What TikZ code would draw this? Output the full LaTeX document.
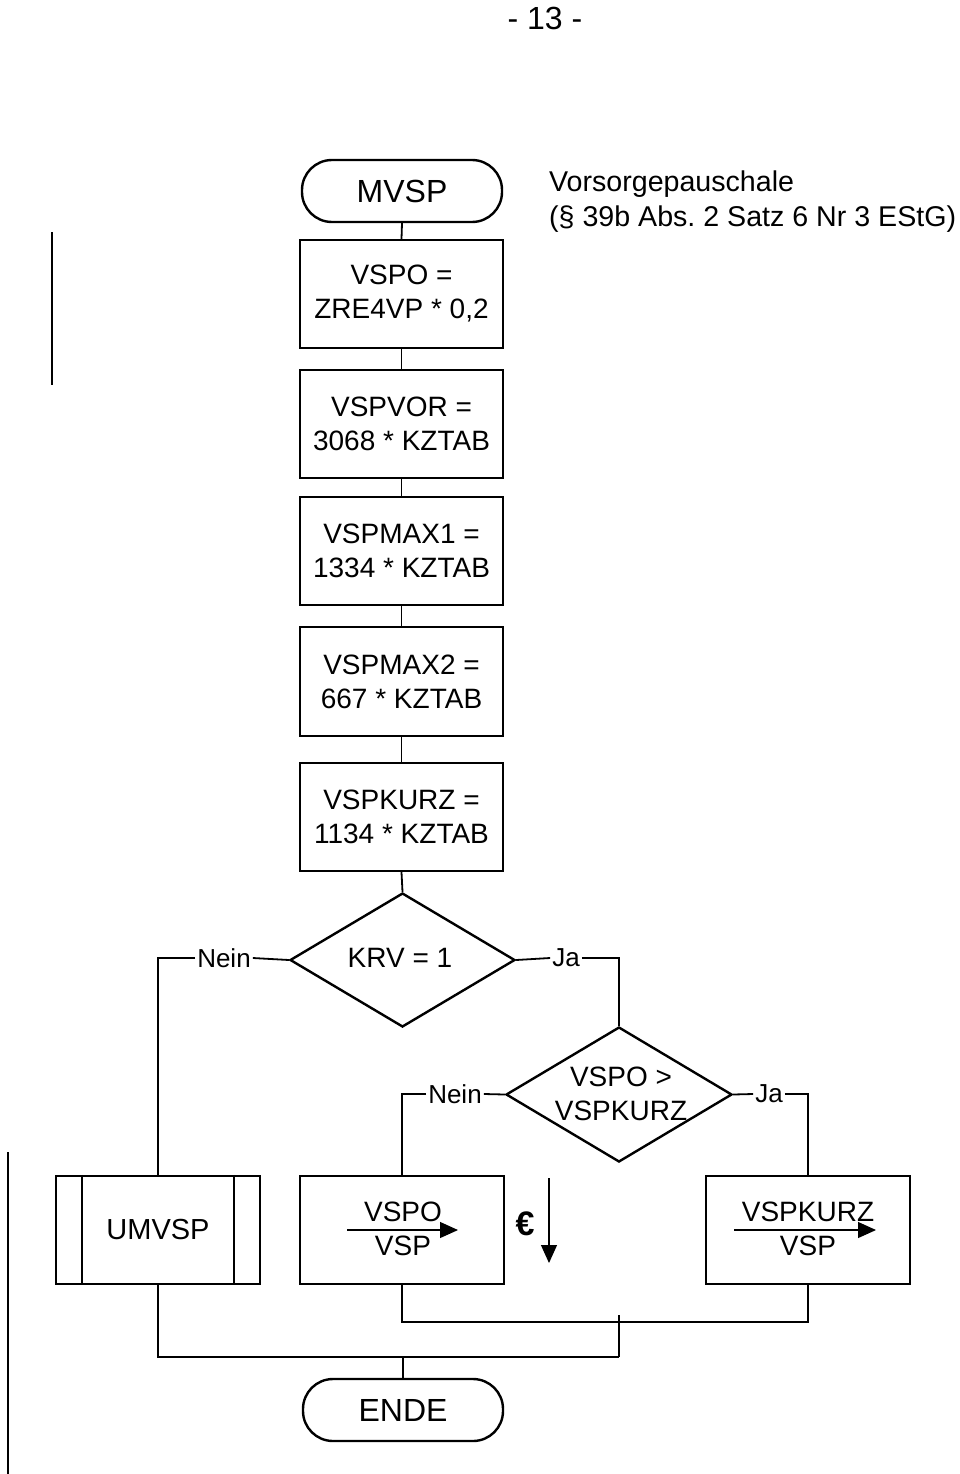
\documentclass[tikz,border=0pt]{standalone}
\usepackage{fontspec}
\setmainfont{Liberation Sans}
\usetikzlibrary{arrows.meta,shapes.geometric}
\frenchspacing
\tikzset{
  big/.style={font=\fontsize{28}{34}\selectfont},
  term/.style={draw,line width=2.4pt,rounded corners=30pt,minimum width=200pt,minimum height=62pt,inner sep=0pt,font=\fontsize{32}{36}\selectfont},
  proc/.style={draw,line width=2.4pt,minimum width=203pt,minimum height=108pt,inner sep=0pt,align=center,big},
  dec/.style={draw,line width=2.4pt,diamond,inner sep=0pt},
  dtext/.style={align=center,inner sep=0pt,big},
  lbl/.style={font=\fontsize{26}{30}\selectfont,inner sep=2pt},
  conn/.style={line width=1.8pt},
  thinarrow/.style={line width=1.2pt,-{Triangle[length=18pt,width=16pt]}},
  plain/.style={inner sep=0pt,big}
}
\begin{document}
\begin{tikzpicture}[x=1pt,y=-1pt]
\useasboundingbox (0,0) rectangle (960,1474);
% header
\node[inner sep=0pt,font=\fontsize{32}{36}\selectfont] (page) at (545,18) {- 13 -};
\node[inner sep=0pt,anchor=base west,font=\fontsize{28.6}{34}\selectfont] (ti1) at (549,192) {Vorsorgepauschale};
\node[inner sep=0pt,anchor=base west,font=\fontsize{28.6}{34}\selectfont] (ti2) at (549,226) {(\S{} 39b Abs. 2 Satz 6 Nr 3 EStG)};
% left margin lines
\coordinate (l1a) at (52,232); \coordinate (l1b) at (52,385);
\draw[conn] (l1a) -- (l1b);
\coordinate (l2a) at (8,1152); \coordinate (l2b) at (8,1474);
\draw[conn] (l2a) -- (l2b);
% main column
\node[term] (mvsp) at (402,191) {MVSP};
\node[proc] (b1) at (401.5,294) {VSPO =\\ZRE4VP * 0,2};
\node[proc] (b2) at (401.5,424) {VSPVOR =\\3068 * KZTAB};
\node[proc] (b3) at (401.5,551) {VSPMAX1 =\\1334 * KZTAB};
\node[proc,minimum height=109pt] (b4) at (401.5,681.5) {VSPMAX2 =\\667 * KZTAB};
\node[proc] (b5) at (401.5,817) {VSPKURZ =\\1134 * KZTAB};
\draw[conn] (mvsp.south) -- (b1.north);
\draw[conn] (b1.south) -- (b2.north);
\draw[conn] (b2.south) -- (b3.north);
\draw[conn] (b3.south) -- (b4.north);
\draw[conn] (b4.south) -- (b5.north);
% decision 1
\node[dec,minimum width=225pt,minimum height=134pt] (d1) at (402.5,960) {};
\node[dtext] (d1t) at (400,958) {KRV = 1};
\draw[conn] (b5.south) -- (d1.north);
% decision 2
\node[dec,minimum width=226pt,minimum height=135pt] (d2) at (619,1094.5) {};
\node[dtext] (d2t) at (621,1094) {VSPO >\\VSPKURZ};
% bottom boxes
\node[proc,minimum width=204pt,font=\fontsize{29}{34}\selectfont] (um) at (158,1230) {UMVSP};
\draw[line width=2.4pt] ([xshift=27pt]um.north west) -- ([xshift=27pt]um.south west);
\draw[line width=2.4pt] ([xshift=-27pt]um.north east) -- ([xshift=-27pt]um.south east);
\node[proc,minimum width=204pt] (vo) at (402,1230) {};
\node[plain] (vo1) at (403,1212) {VSPO};
\node[plain] (vo2) at (403,1246) {VSP};
\coordinate (voa) at (347,1230); \coordinate (vob) at (458,1230);
\draw[thinarrow] (voa) -- (vob);
\node[proc,minimum width=204pt] (vk) at (808,1230) {};
\node[plain] (vk1) at (808,1212) {VSPKURZ};
\node[plain] (vk2) at (808,1246) {VSP};
\coordinate (vka) at (734,1230); \coordinate (vkb) at (876,1230);
\draw[thinarrow] (vka) -- (vkb);
% euro + arrow
\node[inner sep=0pt,font=\fontsize{34}{36}\selectfont\bfseries] (eur) at (525,1224) {€};
\coordinate (ea) at (549,1178); \coordinate (eb) at (549,1263);
\draw[thinarrow] (ea) -- (eb);
% branch connectors
\node[lbl] (n1) at (224,958) {Nein};
\node[lbl] (j1) at (566,958) {Ja};
\node[lbl] (n2) at (455,1094) {Nein};
\node[lbl] (j2) at (769,1094) {Ja};
\draw[conn] (d1.west) -- (n1.east);
\draw[conn] (n1.west) -| (um.north);
\draw[conn] (d1.east) -- (j1.west);
\draw[conn] (j1.east) -| (d2.north);
\draw[conn] (d2.west) -- (n2.east);
\draw[conn] (n2.west) -| (vo.north);
\draw[conn] (d2.east) -- (j2.west);
\draw[conn] (j2.east) -| (vk.north);
% merges
\node[term] (ende) at (403,1410) {ENDE};
\coordinate (m1) at (619,1322);
\coordinate (m1t) at (619,1315);
\coordinate (m2) at (619,1357);
\draw[conn] (vo.south) |- (m1) -| (vk.south);
\draw[conn] (m1t) -- (m2);
\draw[conn] (um.south) |- (m2);
\draw[conn] (ende.north) -- (ende.north |- m2);
\end{tikzpicture}
\end{document}
